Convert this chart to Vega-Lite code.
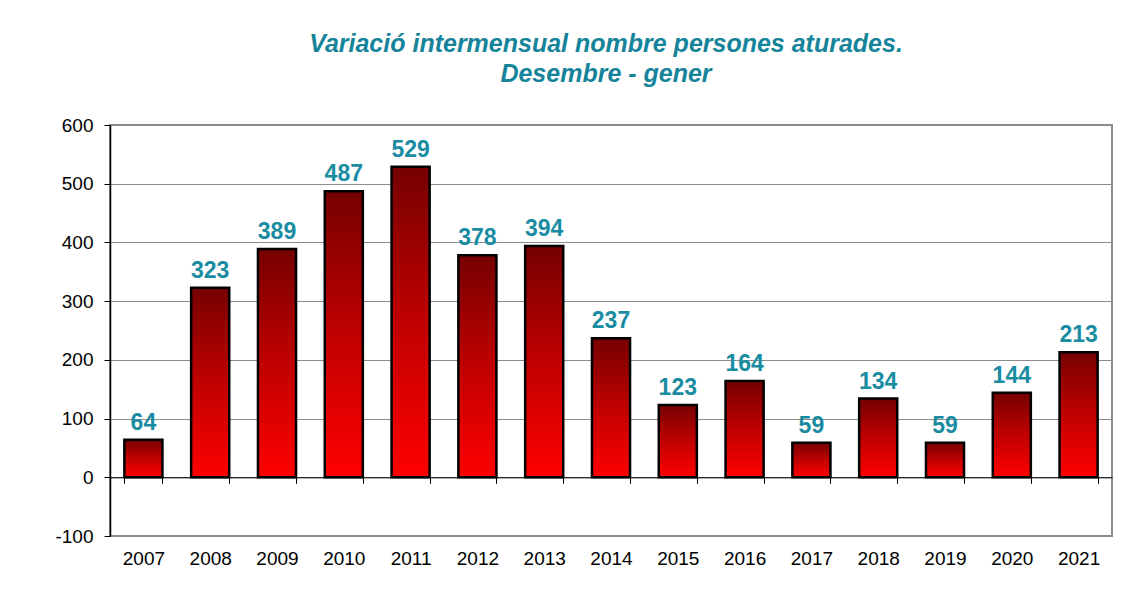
{
  "$schema": "https://vega.github.io/schema/vega-lite/v6.json",
  "width": 1002,
  "height": 411,
  "autosize": {"type": "none"},
  "padding": {"left": 110, "top": 125, "right": 21, "bottom": 61},
  "background": "white",
  "title": {
    "text": ["Variació intermensual nombre persones aturades.", "Desembre - gener"],
    "font": "Liberation Sans",
    "fontSize": 25,
    "fontStyle": "italic",
    "fontWeight": "bold",
    "color": "#15849b",
    "anchor": "middle",
    "lineHeight": 30,
    "offset": 29,
    "dx": -5
  },
  "config": {
    "view": {"stroke": "#8c8c8c", "strokeWidth": 2},
    "font": "Liberation Sans"
  },
  "data": {
    "values": [
      {"year": "2007", "value": 64},
      {"year": "2008", "value": 323},
      {"year": "2009", "value": 389},
      {"year": "2010", "value": 487},
      {"year": "2011", "value": 529},
      {"year": "2012", "value": 378},
      {"year": "2013", "value": 394},
      {"year": "2014", "value": 237},
      {"year": "2015", "value": 123},
      {"year": "2016", "value": 164},
      {"year": "2017", "value": 59},
      {"year": "2018", "value": 134},
      {"year": "2019", "value": 59},
      {"year": "2020", "value": 144},
      {"year": "2021", "value": 213}
    ]
  },
  "encoding": {
    "x": {
      "field": "year",
      "type": "nominal",
      "scale": {"paddingInner": 0.43, "paddingOuter": 0.215},
      "axis": {
        "title": null,
        "labelAngle": 0,
        "offset": -58.7,
        "domainColor": "#000000",
        "domainWidth": 1,
        "tickColor": "#000000",
        "tickSize": 6,
        "tickBand": "extent",
        "labelPadding": 66,
        "labelBaseline": "top",
        "labelFontSize": 19,
        "labelColor": "#000000",
        "labelFont": "Liberation Sans"
      }
    },
    "y": {
      "field": "value",
      "type": "quantitative",
      "scale": {"domain": [-100, 600], "nice": false, "zero": false},
      "axis": {
        "title": null,
        "values": [-100, 0, 100, 200, 300, 400, 500, 600],
        "labelExpr": "'' + datum.value",
        "domainColor": "#000000",
        "domainWidth": 1.5,
        "tickColor": "#000000",
        "tickSize": 6,
        "labelPadding": 11,
        "labelFontSize": 19,
        "labelColor": "#000000",
        "labelFont": "Liberation Sans",
        "gridColor": "#8c8c8c",
        "gridWidth": 1.2,
        "gridOpacity": 1
      }
    }
  },
  "layer": [
    {
      "mark": {
        "type": "bar",
        "stroke": "#000000",
        "strokeWidth": 2.5,
        "color": {
          "gradient": "linear",
          "x1": 0, "y1": 0, "x2": 0, "y2": 1,
          "stops": [
            {"offset": 0, "color": "#760000"},
            {"offset": 0.5, "color": "#c00000"},
            {"offset": 1, "color": "#ff0000"}
          ]
        }
      },
      "encoding": {"y2": {"datum": 0}}
    },
    {
      "mark": {
        "type": "text",
        "baseline": "bottom",
        "dy": -5,
        "fontSize": 23,
        "fontWeight": "bold",
        "font": "Liberation Sans",
        "color": "#1a8ca2"
      },
      "encoding": {"text": {"field": "value", "type": "quantitative"}}
    }
  ]
}
